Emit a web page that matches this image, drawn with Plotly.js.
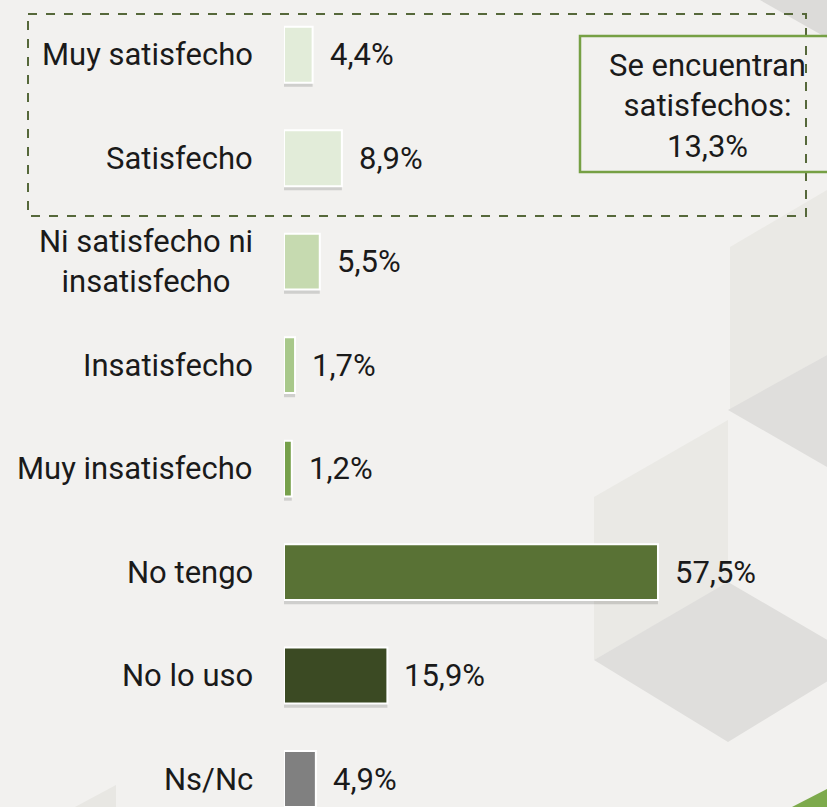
<!DOCTYPE html>
<html>
<head>
<meta charset="utf-8">
<script src="https://cdn.plot.ly/plotly-3.0.1.min.js"></script>
<style>html,body{margin:0;padding:0;background:#F2F1EF;}</style>
</head>
<body>
<div id="chart" style="width:827px;height:807px;"></div>
<script>
// ---- data ----
const categories = ["Muy satisfecho", "Satisfecho", "Ni satisfecho ni insatisfecho", "Insatisfecho",
                    "Muy insatisfecho", "No tengo", "No lo uso", "Ns/Nc"];
const categoryLabels = ["Muy satisfecho", "Satisfecho", "Ni satisfecho ni<br>insatisfecho", "Insatisfecho",
                        "Muy insatisfecho", "No tengo", "No lo uso", "Ns/Nc"];
const values = [4.4, 8.9, 5.5, 1.7, 1.2, 57.5, 15.9, 4.9];
const barColors = ["#E2ECD9", "#E2ECD9", "#C6DAB0", "#A8C88A", "#76A04A", "#597235", "#3B4A23", "#808080"];
const satisfiedGroup = ["Muy satisfecho", "Satisfecho"];
const boxTitle = "Se encuentran<br>satisfechos:";

// ---- layout helpers ----
const W = 827, H = 807, ML = 284, MR = 0, MT = 3, MB = 0;
const PW = W - ML - MR, PH = H - MT - MB;
const px = x => (x - ML) / PW;
const py = y => 1 - (y - MT) / PH;
function poly(pts) {
  return "M" + pts.map(p => px(p[0]).toFixed(4) + "," + py(p[1]).toFixed(4)).join(" L") + " Z";
}

const FONT = "Roboto, 'Open Sans', sans-serif";
const FS = 31;

const satisfiedSum = values.filter((v, i) => satisfiedGroup.includes(categories[i])).reduce((a, b) => a + b, 0);

const shadow = {
  type: "bar", orientation: "h", x: values, y: categories,
  width: 0.54, offset: -0.27 + 0.04,
  marker: {color: "rgba(0,0,0,0.14)", line: {width: 0}},
  hoverinfo: "skip", showlegend: false
};
const bars = {
  type: "bar", orientation: "h", x: values, y: categories,
  width: 0.54,
  marker: {color: barColors, line: {color: "#FFFFFF", width: 2}},
  showlegend: false
};

const annotations = [];
categories.forEach((c, i) => {
  annotations.push({
    xref: "paper", yref: "y", x: 0, y: c, xanchor: "right", yanchor: "middle",
    xshift: -29, text: categoryLabels[i], showarrow: false, align: "center",
    font: {family: FONT, size: FS, color: "#1A1A1A"}
  });
  annotations.push({
    xref: "x", yref: "y", x: values[i], y: c, xanchor: "left", yanchor: "middle",
    xshift: 15, text: values[i].toFixed(1).replace(".", ",") + "%", showarrow: false,
    font: {family: FONT, size: FS, color: "#1A1A1A"}
  });
});
annotations.push({
  xref: "paper", yref: "paper", x: px(707), y: py(106), xanchor: "center", yanchor: "middle",
  text: boxTitle + "<br>" + satisfiedSum.toFixed(1).replace(".", ",") + "%",
  showarrow: false, align: "center",
  font: {family: FONT, size: FS, color: "#1A1A1A"}
});

const shapes = [
  // decorative background facets
  {type: "path", xref: "paper", yref: "paper", layer: "below", path: poly([[760,0],[827,0],[827,38]]),
   fillcolor: "#DCDBD9", line: {width: 0}},
  {type: "path", xref: "paper", yref: "paper", layer: "below", path: poly([[730,247],[827,190],[827,355],[730,410]]),
   fillcolor: "#EAE9E5", line: {width: 0}},
  {type: "path", xref: "paper", yref: "paper", layer: "below", path: poly([[728,410],[827,355],[827,467]]),
   fillcolor: "#DFDEDC", line: {width: 0}},
  {type: "path", xref: "paper", yref: "paper", layer: "below", path: poly([[594,497],[728,420],[728,583],[594,660]]),
   fillcolor: "#EAE9E5", line: {width: 0}},
  {type: "path", xref: "paper", yref: "paper", layer: "below", path: poly([[728,582],[862,660],[728,742],[594,660]]),
   fillcolor: "#DFDEDC", line: {width: 0}},
  {type: "path", xref: "paper", yref: "paper", layer: "below", path: poly([[75,807],[116,785],[116,807]]),
   fillcolor: "#E8E7E3", line: {width: 0}},
  {type: "path", xref: "paper", yref: "paper", layer: "below", path: poly([[792,807],[827,789],[827,807]]),
   fillcolor: "#7DAA4C", line: {width: 0}},
  // dashed group box around satisfied categories
  {type: "rect", xref: "paper", yref: "paper", x0: px(28), x1: px(806), y0: py(14), y1: py(216),
   line: {color: "#56683A", width: 2, dash: "dash"}, fillcolor: "rgba(0,0,0,0)"},
  // summary box
  {type: "rect", xref: "paper", yref: "paper", x0: px(580), x1: px(845), y0: py(36), y1: py(172),
   line: {color: "#76A044", width: 2.5}, fillcolor: "rgba(0,0,0,0)"}
];

const layout = {
  width: W, height: H,
  margin: {l: ML, r: MR, t: MT, b: MB, pad: 0},
  paper_bgcolor: "#F2F1EF", plot_bgcolor: "rgba(0,0,0,0)",
  barmode: "overlay",
  xaxis: {range: [0, PW / 6.504], visible: false, fixedrange: true},
  yaxis: {type: "category", categoryorder: "array", categoryarray: categories,
          range: [-0.5 + PH / 103.47, -0.5], showticklabels: false, showgrid: false,
          zeroline: false, showline: false, ticks: "", fixedrange: true},
  annotations: annotations,
  shapes: shapes,
  font: {family: FONT, color: "#1A1A1A"}
};

Plotly.newPlot("chart", [shadow, bars], layout, {displayModeBar: false, staticPlot: true});
</script>
</body>
</html>
